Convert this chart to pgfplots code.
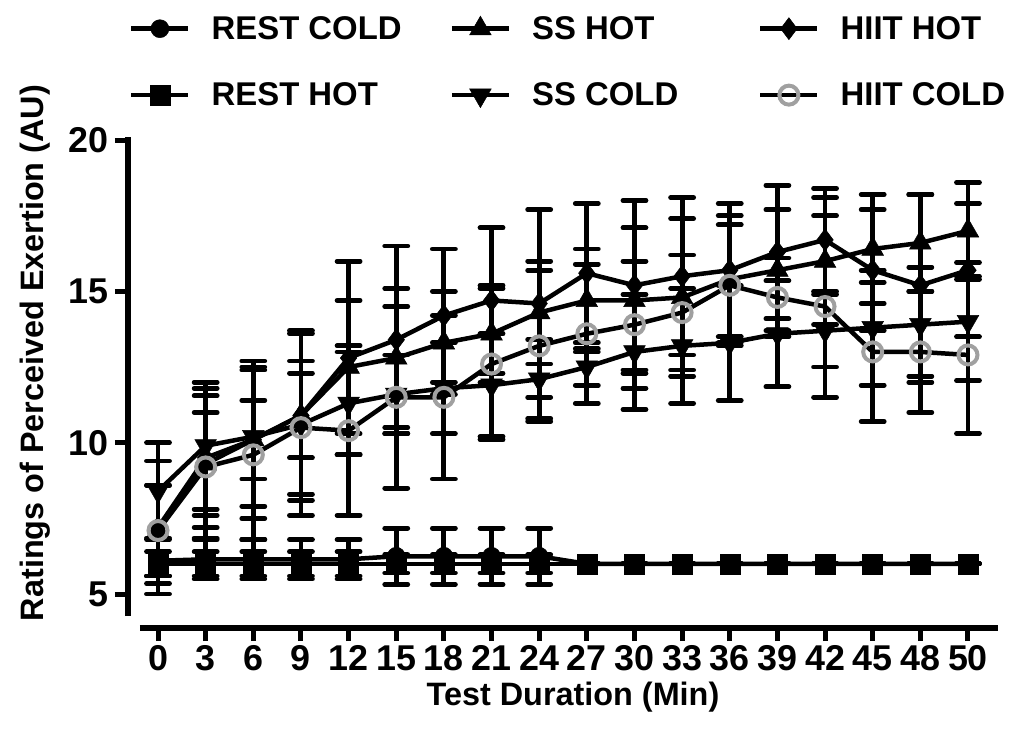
\documentclass[border=0pt]{standalone}
\usepackage{fontspec}
\setmainfont{Liberation Sans}
\usepackage{pgfplots}
\usepackage{pgfplotstable}
\pgfplotsset{compat=1.18}
\definecolor{hgray}{RGB}{160,160,160}

\pgfplotstableread{
x y e
0 6.10 0.75
1 6.15 0.65
2 6.15 0.65
3 6.15 0.65
4 6.15 0.65
5 6.25 0.93
6 6.25 0.93
7 6.25 0.93
8 6.25 0.93
9 6.00 0
10 6.00 0
11 6.00 0
12 6.00 0
13 6.00 0
14 6.00 0
15 6.00 0
16 6.00 0
17 6.00 0
}\restcold

\pgfplotstableread{
x y e
0 6.00 0.40
1 6.00 0.40
2 6.00 0.40
3 6.00 0.40
4 6.00 0.40
5 6.00 0.30
6 6.00 0.30
7 6.00 0.30
8 6.00 0.30
9 6.00 0
10 6.00 0
11 6.00 0
12 6.00 0
13 6.00 0
14 6.00 0
15 6.00 0
16 6.00 0
17 6.00 0
}\resthot

\pgfplotstableread{
x y e
0 7.1 1.5
1 9.3 1.7
2 10.1 1.3
3 10.9 1.4
4 12.5 2.2
5 12.8 2.3
6 13.3 1.7
7 13.6 1.6
8 14.3 1.7
9 14.7 1.7
10 14.7 2.4
11 14.8 2.6
12 15.4 2.1
13 15.7 2.0
14 16.0 2.1
15 16.4 1.8
16 16.6 1.6
17 17.0 1.6
}\sshot

\pgfplotstableread{
x y e
0 8.4 1.6
1 9.9 2.1
2 10.2 2.3
3 10.6 3.0
4 11.3 1.7
5 11.6 1.3
6 11.8 1.5
7 11.9 1.7
8 12.1 1.3
9 12.5 0.6
10 13.0 1.9
11 13.2 1.9
12 13.3 1.9
13 13.6 1.75
14 13.7 1.2
15 13.8 1.9
16 13.9 1.9
17 14.0 1.95
}\sscold

\pgfplotstableread{
x y e
0 7.2 2.2
1 9.5 2.3
2 10.1 2.6
3 10.9 2.8
4 12.8 3.2
5 13.4 3.1
6 14.2 2.2
7 14.7 2.4
8 14.6 3.1
9 15.6 2.3
10 15.2 2.8
11 15.5 2.6
12 15.7 2.2
13 16.3 2.2
14 16.7 1.7
15 15.7 2.0
16 15.2 3.0
17 15.7 2.2
}\hiithot

\pgfplotstableread{
x y e
0 7.1 1.5
1 9.2 2.35
2 9.6 2.8
3 10.5 2.2
4 10.4 2.8
5 11.5 3.0
6 11.5 2.7
7 12.6 2.5
8 13.2 2.5
9 13.6 2.3
10 13.9 2.1
11 14.3 1.9
12 15.2 2.0
13 14.8 1.3
14 14.5 3.0
15 13.0 2.3
16 13.0 2.0
17 12.9 2.6
}\hiitcold

\begin{document}
\begin{tikzpicture}
\useasboundingbox (-128bp,-105bp) rectangle (885bp,628bp);
\begin{axis}[
  scale only axis, width=870bp, height=491bp,
  xmin=-0.63, xmax=17.63, ymin=3.88, ymax=20.1,
  axis lines=left,
  axis line style={-, line width=6bp, line cap=butt},
  x axis line style={shorten <=12bp},
  y axis line style={shorten <=12bp},
  xtick={0,...,17},
  xticklabels={0,3,6,9,12,15,18,21,24,27,30,33,36,39,42,45,48,50},
  ytick={5,10,15,20}, yticklabels={5,10,15,20},
  tick align=outside, major tick length=13bp,
  tick style={line width=5bp, black},
  ticklabel style={font=\bfseries\fontsize{36}{42}\selectfont},
  yticklabel style={xshift=-3bp},
  xticklabel style={yshift=-1bp},
  xlabel={Test Duration (Min)},
  ylabel={Ratings of Perceived Exertion (AU)},
  xlabel style={font=\bfseries\fontsize{32.5}{36}\selectfont, at={(axis description cs:0.5115,-0.14)}, anchor=center},
  ylabel style={font=\bfseries\fontsize{32.5}{36}\selectfont, at={(axis description cs:-0.107,0.56)}, anchor=center},
  legend columns=3,
  legend cell align=left,
  legend style={draw=none, fill=none, at={(axis description cs:-0.0023,1.254)}, anchor=north west,
    font=\bfseries\fontsize{33}{38}\selectfont,
    /tikz/every odd column/.style={column sep=19bp},
    /tikz/every even column/.style={column sep=0bp},
    row sep=38bp},
  legend image code/.code={\draw[mark repeat=2,mark phase=2,#1] plot coordinates {(0bp,0bp) (28.5bp,0bp) (57bp,0bp)};},
  every axis plot/.append style={black, line width=4.5bp},
  clip=false,
]
\pgfplotsset{myerr/.style={error bars/.cd, y dir=both, y explicit,
  error bar style={line width=4.8bp, black},
  error mark options={rotate=90, line width=4.8bp, mark size=11.5bp, line cap=round, black}}}

\addplot[black, line width=4.5bp, mark=*, mark size=9bp, mark options={solid, fill=black, line width=0.5bp}, myerr]
  table[x=x, y=y, y error=e] {\restcold};
\addlegendentry{\makebox[236bp][l]{REST COLD}}

\addplot[black, line width=4.5bp, mark=triangle*, mark size=12.5bp, mark options={solid, fill=black, line width=0.5bp}, myerr]
  table[x=x, y=y, y error=e] {\sshot};
\addlegendentry{\makebox[224bp][l]{SS HOT}}

\addplot[black, line width=4.5bp, mark=diamond*, mark size=11bp, mark options={solid, fill=black, line width=0.5bp}, myerr]
  table[x=x, y=y, y error=e] {\hiithot};
\addlegendentry{HIIT HOT}

\addplot[black, line width=4.5bp, mark=square*, mark size=10bp, mark options={solid, fill=black, line width=0.5bp}, myerr]
  table[x=x, y=y, y error=e] {\resthot};
\addlegendentry{\makebox[236bp][l]{REST HOT}}

\addplot[black, line width=4.5bp, mark=triangle*, mark size=12.5bp, mark options={solid, fill=black, line width=0.5bp, rotate=180}, myerr]
  table[x=x, y=y, y error=e] {\sscold};
\addlegendentry{\makebox[224bp][l]{SS COLD}}

\addplot[black, line width=4.5bp, mark=o, mark size=9.5bp, mark options={solid, draw=hgray, line width=4bp}, myerr]
  table[x=x, y=y, y error=e] {\hiitcold};
\addlegendentry{HIIT COLD}
\end{axis}
\end{tikzpicture}
\end{document}
